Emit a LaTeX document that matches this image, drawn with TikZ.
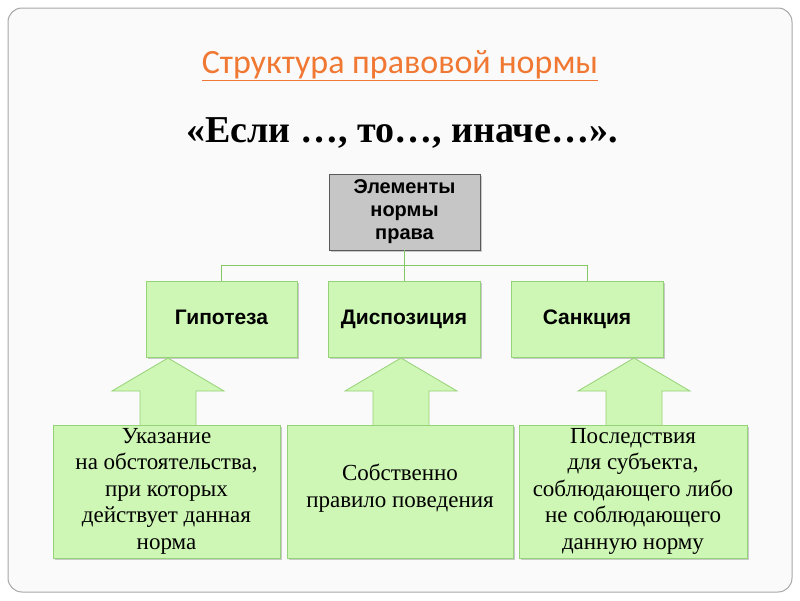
\documentclass[tikz,border=0pt]{standalone}
\usepackage{fontspec}
\setmainfont{Liberation Serif}
\newfontfamily\carl{Carlito}
\newfontfamily\arl{Liberation Sans}
\usetikzlibrary{shadows}
\definecolor{gfill}{RGB}{206,246,180}
\definecolor{gline}{RGB}{150,210,120}
\definecolor{cline}{RGB}{130,200,100}
\definecolor{ttl}{RGB}{240,120,50}
\begin{document}
\begin{tikzpicture}[x=1pt,y=-1pt,
  gbox/.style={draw=gline,fill=gfill,line width=0.8pt,drop shadow={shadow xshift=1.5pt,shadow yshift=-1.5pt,opacity=0.4}},
  uparrow/.style={draw=gline,fill=gfill,line width=0.8pt},
  conn/.style={draw=cline,line width=0.9pt},
  hd/.style={font=\arl\bfseries\fontsize{21}{24}\selectfont,text height=15pt,text depth=4pt},
  bt/.style={align=center,font=\fontsize{23}{26.5}\selectfont}]
\useasboundingbox (0,0) rectangle (800,600);
\draw[rounded corners=14pt,draw=gray!70,line width=1pt,fill=gray!4] (8,8) rectangle (792,592);
\node (title) at (400,66) {\carl\fontsize{34}{38}\selectfont\color{ttl}\underline{Структура правовой нормы}};
\node (sub) at (402,133) {\bfseries\fontsize{38}{44}\selectfont «Если …, то…, иначе…».};
% top box
\draw[draw=gray!70!black,fill=gray!45,line width=0.8pt,drop shadow={shadow xshift=1.5pt,shadow yshift=-1.5pt,opacity=0.4}] (329,174) rectangle (480,250);
\node[align=center,font=\arl\bfseries\fontsize{20}{23}\selectfont] (top) at (404.5,212) {Элементы\\нормы\\права};
\coordinate (tb) at (404.5,250);
\coordinate (j) at (404.5,265);
\coordinate (jl) at (221,265);
\coordinate (jr) at (587,265);
\foreach \a/\b/\n/\t in {146/297/hyp/Гипотеза,328/480/dis/Диспозиция,511/663/san/Санкция}{
  \draw[gbox] (\a,281) rectangle (\b,357);
  \node[hd] (\n) at ({(\a+\b)/2},319) {\t};
}
\draw[conn] (tb) -- (j) (jl) -- (jr);
\draw[conn] (jl) -- (221,281);
\draw[conn] (j) -- (404.5,281);
\draw[conn] (jr) -- (587,281);
% up arrows
\foreach \c in {168,401,634}{
  \draw[uparrow] (\c-28,426) -- (\c-28,391) -- (\c-56,391) -- (\c,358) -- (\c+56,391) -- (\c+28,391) -- (\c+28,426);
}
% bottom boxes
\draw[gbox] (53,425) rectangle (280,558);
\draw[gbox] (287,425) rectangle (513,558);
\draw[gbox] (519,425) rectangle (747,558);
\node[bt] (b1) at (166.5,491) {Указание\\на обстоятельства,\\при которых\\действует данная\\норма};
\node[bt] (b2) at (400,488) {Собственно\\правило поведения};
\node[bt] (b3) at (633,491) {Последствия\\для субъекта,\\соблюдающего либо\\не соблюдающего\\данную норму};
\end{tikzpicture}
\end{document}
